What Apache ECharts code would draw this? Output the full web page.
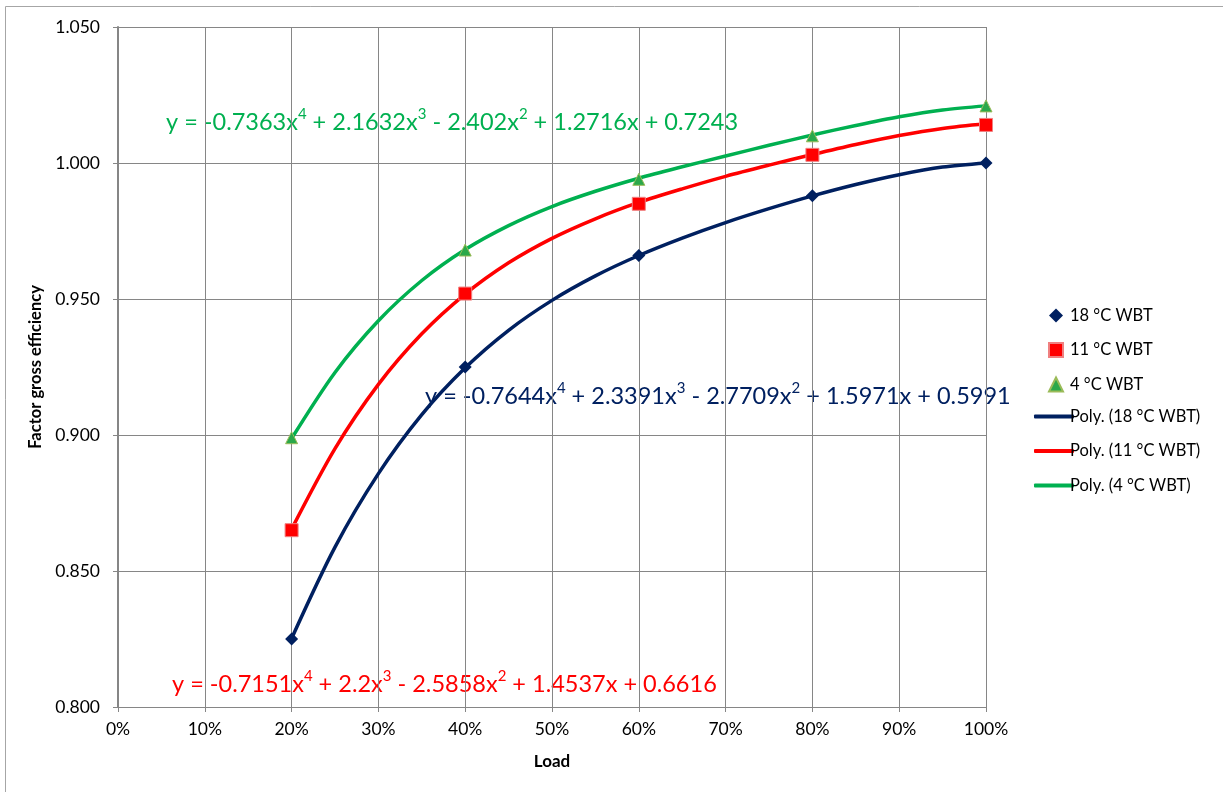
<!DOCTYPE html>
<html>
<head>
<meta charset="utf-8">
<script src="https://cdn.jsdelivr.net/npm/echarts@6/dist/echarts.min.js"></script>
<style>html,body{margin:0;padding:0;background:#fff}#c{width:1223px;height:792px}</style>
</head>
<body>
<div id="c"></div>
<script>
// Measured points
var pointLoads = [0.2, 0.4, 0.6, 0.8, 1.0];
var wbt18 = [0.825, 0.925, 0.966, 0.988, 1.000];
var wbt11 = [0.865, 0.952, 0.985, 1.003, 1.014];
var wbt4  = [0.899, 0.968, 0.994, 1.010, 1.021];
// Trend curves (every 5 % of load)
var curveLoads = [0.20, 0.25, 0.30, 0.35, 0.40, 0.45, 0.50, 0.55, 0.60, 0.65, 0.70, 0.75, 0.80, 0.85, 0.90, 0.95, 1.00];
var poly18 = [0.8252, 0.8588, 0.8858, 0.9075, 0.9247, 0.9385, 0.9495, 0.9585, 0.9660, 0.9724, 0.9781, 0.9832, 0.9879, 0.9921, 0.9957, 0.9985, 1.0000];
var poly11 = [0.8654, 0.8950, 0.9186, 0.9372, 0.9518, 0.9633, 0.9723, 0.9795, 0.9855, 0.9905, 0.9951, 0.9992, 1.0031, 1.0068, 1.0101, 1.0127, 1.0144];
var poly4  = [0.8987, 0.9230, 0.9420, 0.9568, 0.9682, 0.9770, 0.9840, 0.9896, 0.9944, 0.9986, 1.0026, 1.0065, 1.0103, 1.0138, 1.0170, 1.0195, 1.0210];
var seriesNames = ['18 °C WBT', '11 °C WBT', '4 °C WBT', 'Poly. (18 °C WBT)', 'Poly. (11 °C WBT)', 'Poly. (4 °C WBT)'];
var eq18 = 'y = -0.7644x{s|4} + 2.3391x{s|3} - 2.7709x{s|2} + 1.5971x + 0.5991';
var eq11 = 'y = -0.7151x{s|4} + 2.2x{s|3} - 2.5858x{s|2} + 1.4537x + 0.6616';
var eq4  = 'y = -0.7363x{s|4} + 2.1632x{s|3} - 2.402x{s|2} + 1.2716x + 0.7243';

function pairs(xs, ys) { return xs.map(function (x, i) { return [x, ys[i]]; }); }

var FONT = 'Lato, "Open Sans", sans-serif';
var NAVY = '#002060', RED = '#FF0000', GREEN = '#00B050';

var chart = echarts.init(document.getElementById('c'), null, {renderer: 'canvas'});

function eqText(text, color, x, y) {
  return {
    type: 'text', left: x, top: y, z: 0,
    style: {
      text: text, fill: color, fontFamily: FONT, fontSize: 23.5,
      lineHeight: 30,
      rich: { s: { fontSize: 15, fill: color, fontFamily: FONT, verticalAlign: 'top', lineHeight: 30, padding: [0, 0, 10, 0] } }
    }
  };
}

var option = {
  animation: false,
  backgroundColor: '#fff',
  textStyle: { fontFamily: FONT },
  grid: { left: 118, right: 237, top: 27, bottom: 85, containLabel: false },
  xAxis: {
    type: 'value', min: 0, max: 1, interval: 0.1,
    name: 'Load', nameLocation: 'middle', nameGap: 46,
    nameTextStyle: { fontWeight: 'bold', fontSize: 17, color: '#000', fontFamily: FONT },
    axisLine: { show: true, lineStyle: { color: '#868686', width: 1 } },
    axisTick: { show: true, inside: false, length: 5, lineStyle: { color: '#868686' } },
    axisLabel: { color: '#000', fontSize: 17.5, margin: 13, fontFamily: FONT,
      formatter: function (v) { return Math.round(v * 100) + '%'; } },
    splitLine: { show: true, lineStyle: { color: '#868686', width: 1 } }
  },
  yAxis: {
    type: 'value', min: 0.8, max: 1.05, interval: 0.05,
    name: 'Factor gross efficiency', nameLocation: 'middle', nameGap: 72,
    nameTextStyle: { fontWeight: 'bold', fontSize: 16.5, color: '#000', fontFamily: FONT },
    axisLine: { show: true, lineStyle: { color: '#868686', width: 2 } },
    axisTick: { show: true, inside: false, length: 5, lineStyle: { color: '#868686' } },
    axisLabel: { color: '#000', fontSize: 17.5, margin: 18, fontFamily: FONT,
      formatter: function (v) { return v.toFixed(3); } },
    splitLine: { show: true, lineStyle: { color: '#868686', width: 1 } }
  },
  legend: [
    {
      orient: 'vertical', left: 1043, top: 302, itemWidth: 14, itemHeight: 14, itemGap: 17.5,
      textStyle: { fontSize: 16.5, color: '#000', fontFamily: FONT, lineHeight: 16, padding: [0, 0, 0, 2] },
      data: [
        { name: seriesNames[0], icon: 'diamond' },
        { name: seriesNames[1], icon: 'rect' },
        { name: seriesNames[2], icon: 'triangle' }
      ]
    },
    {
      orient: 'vertical', left: 1029, top: 403, itemWidth: 40, itemHeight: 4, itemGap: 17.5,
      textStyle: { fontSize: 16.5, color: '#000', fontFamily: FONT, lineHeight: 16, padding: [0, 0, 0, -9] },
      data: [
        { name: seriesNames[3], icon: 'roundRect' },
        { name: seriesNames[4], icon: 'roundRect' },
        { name: seriesNames[5], icon: 'roundRect' }
      ]
    }
  ],
  series: [
    { name: seriesNames[3], type: 'line', smooth: 0.3, showSymbol: false, z: 3,
      data: pairs(curveLoads, poly18), lineStyle: { color: NAVY, width: 3.5 }, itemStyle: { color: NAVY } },
    { name: seriesNames[4], type: 'line', smooth: 0.3, showSymbol: false, z: 3,
      data: pairs(curveLoads, poly11), lineStyle: { color: RED, width: 3.5 }, itemStyle: { color: RED } },
    { name: seriesNames[5], type: 'line', smooth: 0.3, showSymbol: false, z: 3,
      data: pairs(curveLoads, poly4), lineStyle: { color: GREEN, width: 3.5 }, itemStyle: { color: GREEN } },
    { name: seriesNames[0], type: 'scatter', symbol: 'diamond', symbolSize: 13, z: 5,
      data: pairs(pointLoads, wbt18), itemStyle: { color: NAVY, opacity: 1 } },
    { name: seriesNames[1], type: 'scatter', symbol: 'rect', symbolSize: 13, z: 5,
      data: pairs(pointLoads, wbt11), itemStyle: { color: RED, borderColor: '#F08080', borderWidth: 1, opacity: 1 } },
    { name: seriesNames[2], type: 'scatter', symbol: 'triangle', symbolSize: 12, z: 5,
      data: pairs(pointLoads, wbt4), itemStyle: { color: '#2BA84A', borderColor: '#9BBB59', borderWidth: 1, opacity: 1 } }
  ],
  graphic: [
    { type: 'rect', z: -1, shape: { x: 5.5, y: 6.5, width: 1400, height: 1000 },
      style: { fill: 'none', stroke: '#a6a6a6', lineWidth: 1 } },
    eqText(eq4, GREEN, 166, 107),
    eqText(eq18, NAVY, 425, 381),
    eqText(eq11, RED, 172, 669)
  ]
};
chart.setOption(option);
</script>
</body>
</html>
